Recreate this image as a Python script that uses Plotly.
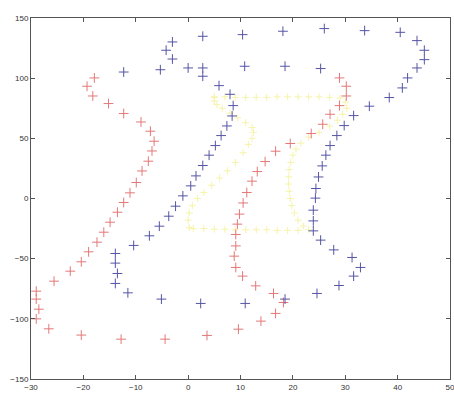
import plotly.graph_objects as go

# Red series
red_x = [-17.9, -19.3, -18.2, -15.2, -12.3, -9.0, -7.2, -6.5, -6.9, -7.6, -8.8, -9.9, -11.1,
         -12.3, -13.5, -14.9, -16.1, -17.4, -19.0, -20.4, -22.5, -25.6, -29.0, -29.0, -28.5,
         -29.0, -26.6, -20.4, -12.8, -4.4, 3.6, 9.6, 13.9, 16.7, 18.2, 16.3, 12.9, 10.4, 9.1,
         8.8, 9.1, 9.1, 9.4, 9.8, 10.5, 11.2, 12.2, 13.2, 14.7, 16.7, 19.5, 23.5, 25.7, 27.1,
         28.9, 30.2, 30.2, 28.9]
red_y = [100.2, 93.3, 85.2, 78.9, 70.6, 63.6, 55.9, 47.6, 39.5, 31.0, 22.9, 13.3, 4.7,
         -3.3, -11.4, -19.7, -28.0, -36.3, -44.3, -52.6, -60.4, -68.7, -77.0, -83.6, -92.0,
         -100.0, -108.3, -113.5, -116.9, -116.9, -113.8, -108.6, -101.9, -95.5, -86.4, -78.9,
         -72.6, -64.5, -57.3, -47.9, -39.4, -29.9, -21.3, -13.0, -3.7, 5.0, 14.4, 22.4, 30.7,
         39.3, 45.7, 54.0, 61.7, 70.0, 77.2, 85.2, 93.3, 100.2]

# Blue series
blue_x = [-12.3, -5.3, -3.0, -4.2, -3.0, 0.0, 2.8, 2.8, 2.8, 10.4, 10.8, 18.1, 18.5, 25.3,
          26.0, 33.7, 40.5, 43.7, 45.1, 45.1, 43.7, 41.9, 40.9, 38.4, 34.6, 31.6, 29.8, 28.4,
          27.1, 26.3, 25.6, 24.9, 24.4, 24.3, 23.9, 23.9, 23.9, 25.3, 27.8, 31.3, 32.9, 31.6,
          28.8, 24.6, 18.5, 10.9, 2.4, -5.1, -11.5, -13.9, -13.5, -13.9, -13.9, -10.4, -7.4,
          -5.5, -3.7, -2.4, -1.0, 0.5, 1.5, 2.8, 4.0, 5.2, 6.3, 7.4, 8.4, 8.6, 8.0, 5.9]
blue_y = [105.1, 107.0, 130.1, 123.2, 115.9, 108.5, 134.8, 108.5, 101.6, 136.2, 109.9, 139.0,
          109.9, 108.0, 141.2, 139.5, 138.1, 131.2, 123.2, 115.4, 108.5, 100.2, 91.9, 83.9,
          76.7, 68.9, 60.6, 52.3, 44.0, 36.0, 27.1, 17.9, 8.3, 0.3, -9.7, -18.6, -26.9, -34.6,
          -42.7, -49.0, -57.3, -64.5, -72.3, -78.9, -83.6, -87.2, -87.2, -83.6, -78.4, -70.6,
          -62.3, -53.7, -45.7, -39.0, -31.0, -23.0, -14.7, -6.4, 2.2, 10.5, 18.8, 27.4, 36.0,
          44.0, 52.3, 60.3, 68.6, 77.2, 86.6, 93.8]

# Yellow series (closed loop)
yellow_x = [5.0, 7.0, 9.0, 11.0, 13.0, 15.0, 17.0, 19.0, 21.0, 23.0, 25.0, 27.0, 29.0,
            30.0, 30.3, 29.5, 28.5, 27.0, 25.0, 23.0, 21.5, 20.6, 20.0, 19.6, 19.3, 19.2,
            19.2, 19.3, 19.5, 19.8, 20.3, 21.0, 22.0, 23.0,
            21.0, 19.0, 17.0, 15.0, 13.0, 11.0, 9.0, 7.0, 5.0, 3.0, 1.0,
            0.2, 0.0, 0.2, 0.8, 1.8, 3.0, 4.5, 6.0, 7.5, 9.0, 10.5, 11.5, 12.2, 12.5, 12.2,
            11.0, 9.5, 8.0, 6.5, 5.5, 5.0, 5.0]
yellow_y = [84.5, 84.5, 84.0, 84.0, 84.0, 84.0, 84.5, 84.5, 84.5, 84.5, 84.5, 84.0, 83.5,
            80.0, 75.0, 70.0, 65.0, 60.0, 55.0, 51.0, 46.0, 41.0, 36.0, 30.0, 24.0, 18.0,
            12.0, 6.0, 0.0, -6.0, -12.0, -18.0, -23.0, -26.0,
            -26.5, -26.5, -26.5, -26.0, -26.0, -26.0, -26.0, -25.5, -25.5, -25.0, -25.0,
            -24.0, -18.0, -12.0, -6.0, 0.0, 5.0, 11.0, 17.0, 23.0, 30.0, 38.0, 45.0, 50.0,
            55.0, 59.0, 63.0, 67.0, 71.0, 75.0, 78.0, 81.0, 84.0]

x_ticks = [-30, -20, -10, 0, 10, 20, 30, 40, 50]
y_ticks = [-150, -100, -50, 0, 50, 100, 150]

fig = go.Figure()

def add(xs, ys, color, size):
    fig.add_trace(go.Scatter(
        x=xs, y=ys, mode="markers",
        marker=dict(symbol="cross-thin", size=size, color=color,
                    line=dict(width=1, color=color)),
        showlegend=False, hoverinfo="skip"))

add(yellow_x, yellow_y, "rgb(246,243,170)", 5)
add(red_x, red_y, "rgb(228,120,120)", 7)
add(blue_x, blue_y, "rgb(85,85,165)", 7)

axis_common = dict(showgrid=False, zeroline=False, showline=True, mirror="ticks",
                   linecolor="#555555", linewidth=1, ticks="inside", ticklen=4,
                   tickcolor="#555555", ticklabeloverflow="allow",
                   tickfont=dict(family="Liberation Sans Narrow, Liberation Sans", size=8,
                                 color="#333333"))
fig.update_xaxes(range=[-30, 50], tickvals=x_ticks, **axis_common)
fig.update_yaxes(range=[-150, 150], tickvals=y_ticks, **axis_common)

fig.update_layout(width=454, height=398,
                  margin=dict(l=31, r=4, t=18, b=19, autoexpand=False),
                  paper_bgcolor="white", plot_bgcolor="white")

fig.write_html("out.html", config={"displayModeBar": False, "staticPlot": True},
               post_script="document.body.style.margin='0px';document.body.style.padding='0px';document.body.style.overflow='hidden';")
